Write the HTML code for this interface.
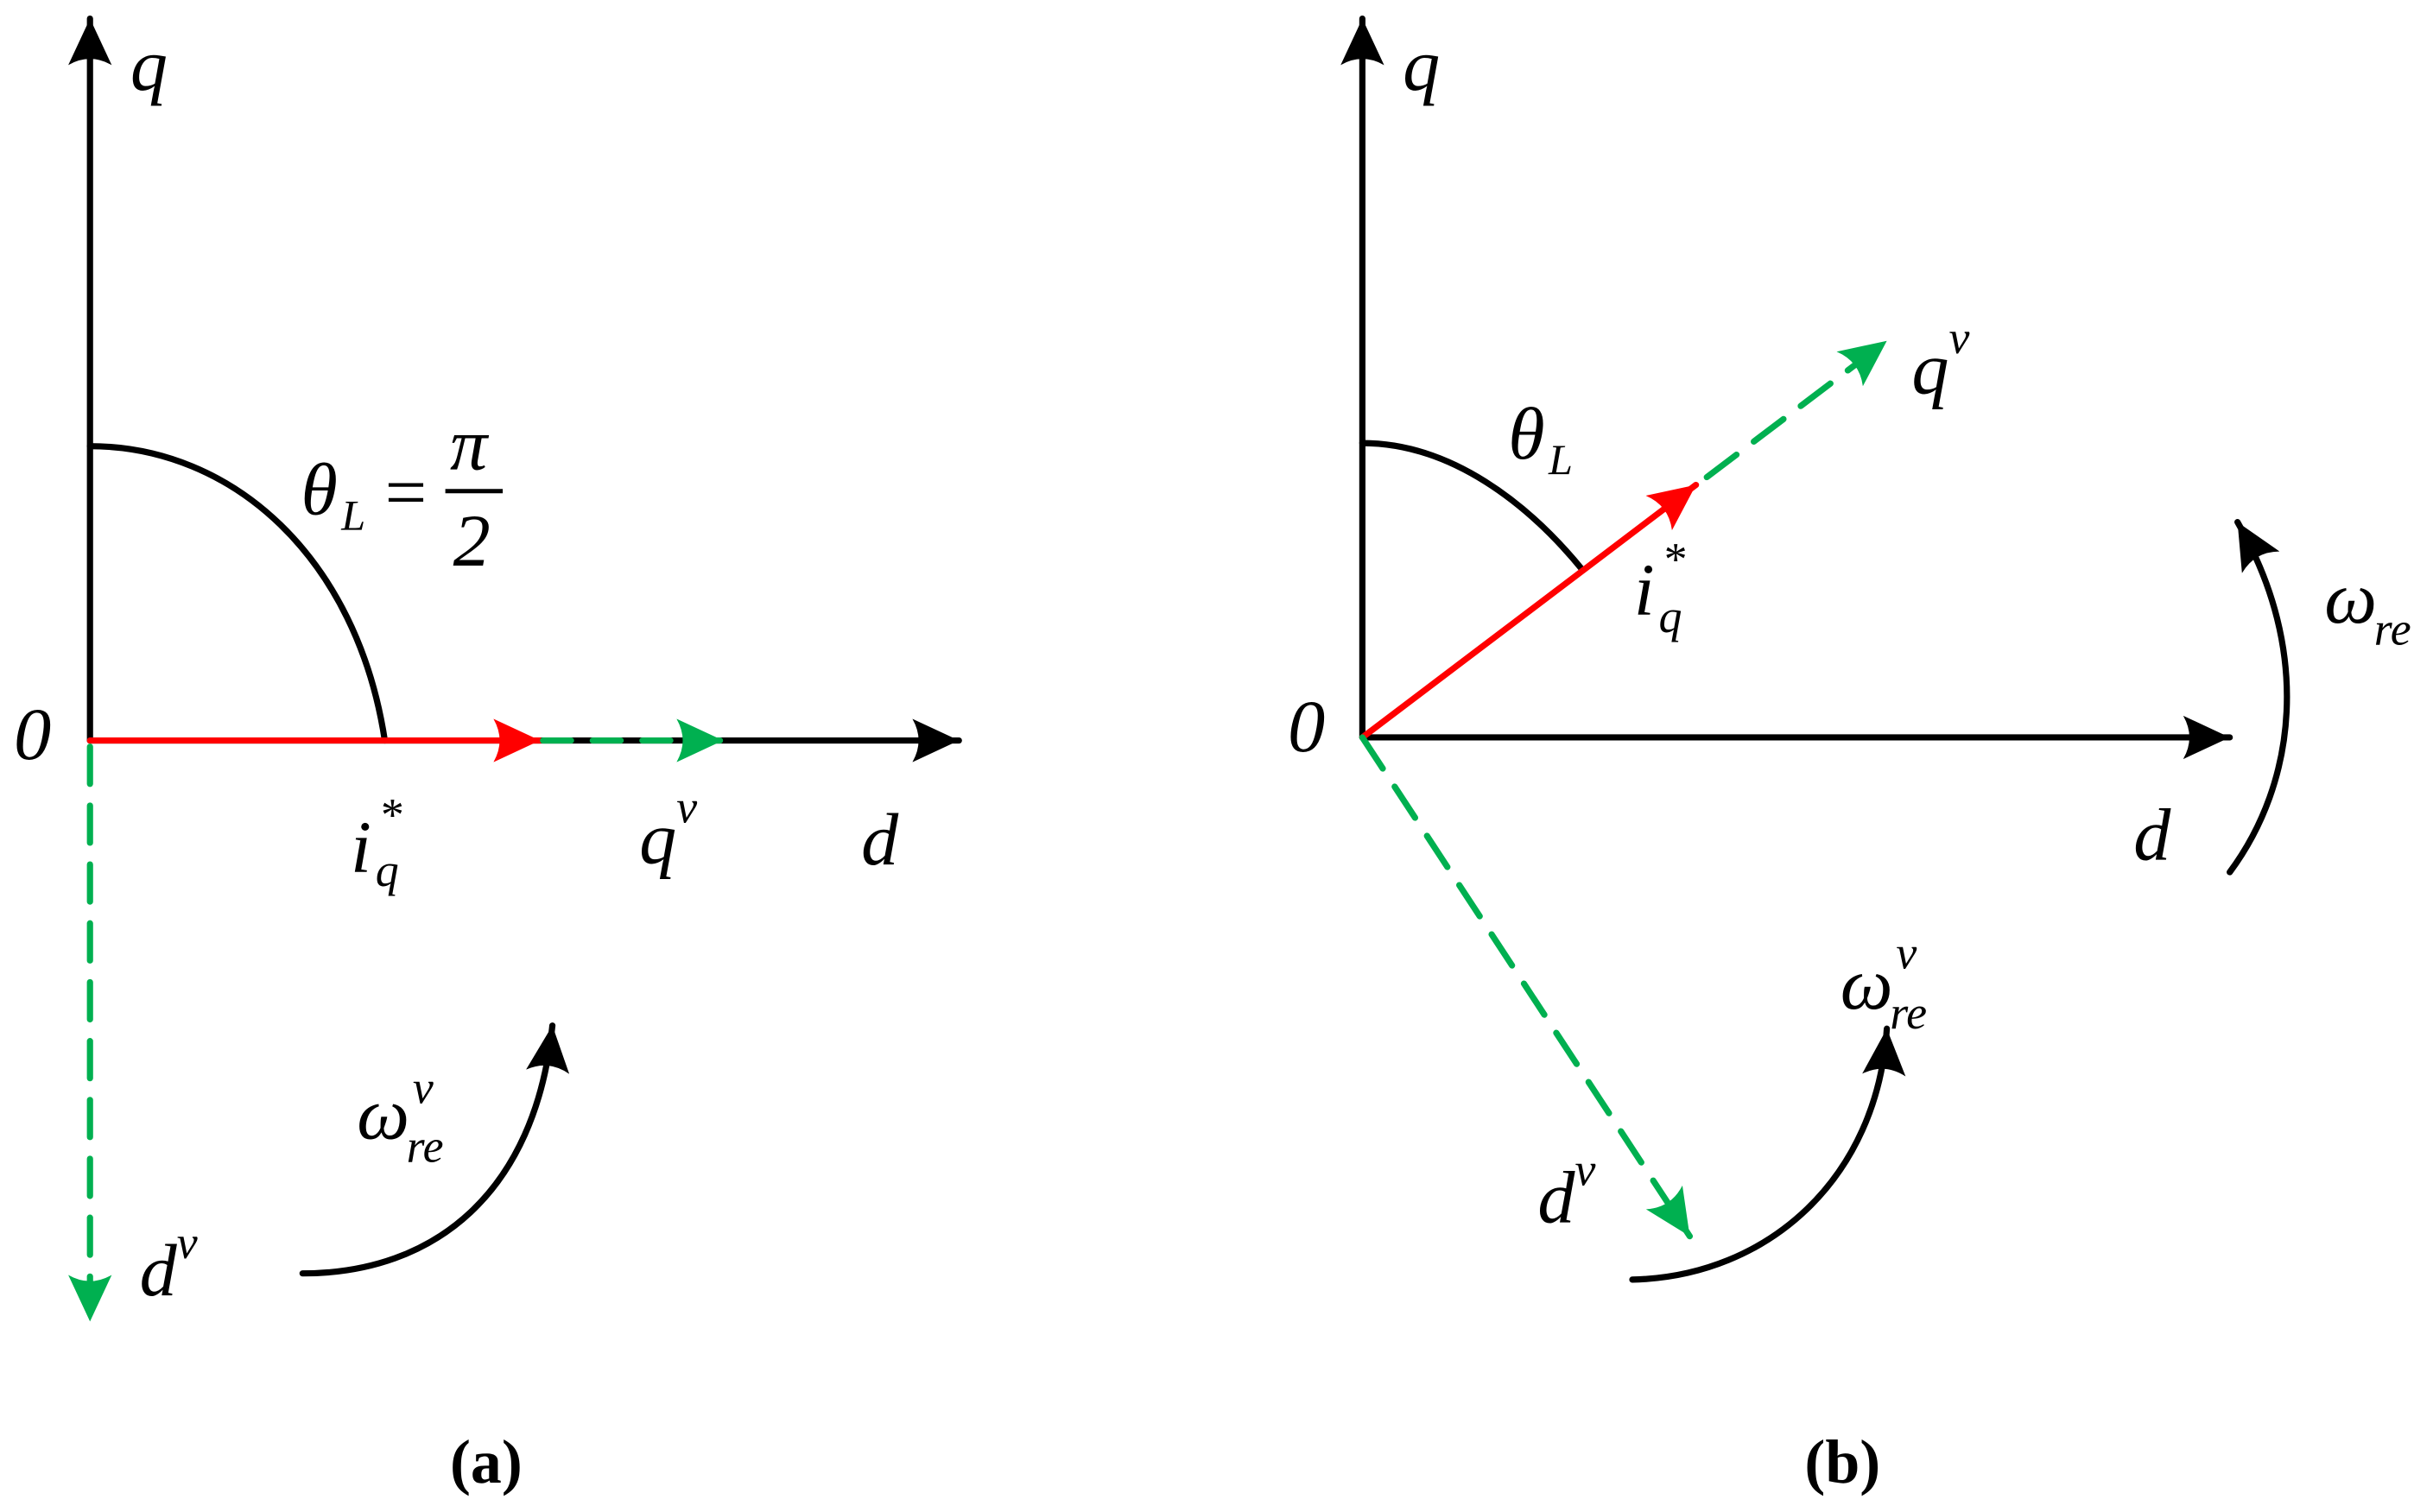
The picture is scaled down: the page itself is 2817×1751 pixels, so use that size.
<!DOCTYPE html>
<html><head><meta charset="utf-8"><style>
html,body{margin:0;padding:0;background:#fff;}
svg{display:block;}
text{font-family:"Liberation Serif","Times New Roman",serif;font-style:italic;fill:#000;}
</style></head><body>
<svg width="2817" height="1751" viewBox="0 0 1568 976" preserveAspectRatio="none" xmlns="http://www.w3.org/2000/svg">
<defs>
<marker id="ak" markerUnits="userSpaceOnUse" markerWidth="34" markerHeight="28" refX="30" refY="14" orient="auto" viewBox="0 0 34 28"><path d="M0,0 L30,14 L0,28 Q8,14 0,0Z" fill="#000"/></marker>
<marker id="ar" markerUnits="userSpaceOnUse" markerWidth="34" markerHeight="28" refX="30" refY="14" orient="auto" viewBox="0 0 34 28"><path d="M0,0 L30,14 L0,28 Q8,14 0,0Z" fill="#f00"/></marker>
<marker id="ag" markerUnits="userSpaceOnUse" markerWidth="34" markerHeight="28" refX="30" refY="14" orient="auto" viewBox="0 0 34 28"><path d="M0,0 L30,14 L0,28 Q8,14 0,0Z" fill="#00b050"/></marker>
</defs>
<g stroke-width="4" fill="none" stroke-linecap="round">
<line x1="58" y1="478" x2="58" y2="12" stroke="#000" marker-end="url(#ak)"/>
<line x1="58" y1="478" x2="618" y2="478" stroke="#000" marker-end="url(#ak)"/>
<path d="M58,288 C150,288 230,360 248,478" stroke="#000"/>
<line x1="58" y1="478" x2="348" y2="478" stroke="#f00" marker-end="url(#ar)"/>
<line x1="350" y1="478" x2="466" y2="478" stroke="#00b050" stroke-dasharray="18,14" marker-end="url(#ag)"/>
<line x1="58" y1="482" x2="58" y2="853" stroke="#00b050" stroke-dasharray="24,14" marker-end="url(#ag)"/>
<path d="M195,822 C280,822 345,770 356,662" stroke="#000" marker-end="url(#ak)"/>
<line x1="878" y1="476" x2="878" y2="12" stroke="#000" marker-end="url(#ak)"/>
<line x1="878" y1="476" x2="1437" y2="476" stroke="#000" marker-end="url(#ak)"/>
<path d="M878,286 C935,286 985,325 1020,368" stroke="#000"/>
<line x1="878" y1="476" x2="1093" y2="313" stroke="#f00" marker-end="url(#ar)"/>
<line x1="1100" y1="308" x2="1216" y2="220" stroke="#00b050" stroke-dasharray="24,14" marker-end="url(#ag)"/>
<line x1="878" y1="476" x2="1089" y2="798" stroke="#00b050" stroke-dasharray="24,14" marker-end="url(#ag)"/>
<path d="M1052,826 C1140,824 1210,760 1216,664" stroke="#000" marker-end="url(#ak)"/>
<path d="M1437,563 C1480,505 1490,420 1442,337" stroke="#000" marker-end="url(#ak)"/>
</g>
<g font-size="48">
<text x="84" y="58">q</text>
<text x="9" y="490">0</text>
<text x="555" y="558">d</text>
<text x="194" y="332">θ</text><text x="220" y="342" font-size="28">L</text>
<text x="245" y="334" font-style="normal">=</text>
<text x="290" y="303">π</text>
<line x1="287" y1="317" x2="324" y2="317" stroke="#000" stroke-width="2.8"/>
<text x="292" y="365" font-style="normal">2</text>
<text x="226" y="563">i</text><text x="242" y="572" font-size="30">q</text><text x="244" y="536" font-size="30" font-style="normal">*</text>
<text x="412" y="557">q</text><text x="436" y="531" font-size="30">v</text>
<text x="90" y="836">d</text><text x="114" y="812" font-size="30">v</text>
<text x="230" y="735">ω</text><text x="262" y="750" font-size="30">re</text><text x="266" y="712" font-size="30">v</text>
<text x="904" y="58">q</text>
<text x="830" y="485">0</text>
<text x="1375" y="555">d</text>
<text x="972" y="296">θ</text><text x="998" y="306" font-size="28">L</text>
<text x="1053" y="397">i</text><text x="1069" y="408" font-size="30">q</text><text x="1071" y="371" font-size="30" font-style="normal">*</text>
<text x="1232" y="254">q</text><text x="1256" y="228" font-size="30">v</text>
<text x="991" y="789">d</text><text x="1015" y="765" font-size="30">v</text>
<text x="1186" y="651">ω</text><text x="1218" y="664" font-size="30">re</text><text x="1222" y="625" font-size="30">v</text>
<text x="1498" y="402">ω</text><text x="1530" y="416" font-size="30">re</text>
</g>
<g font-size="40" font-weight="bold">
<text x="290" y="957" style="font-style:normal">(a)</text>
<text x="1163" y="957" style="font-style:normal">(b)</text>
</g>
</svg>
</body></html>
